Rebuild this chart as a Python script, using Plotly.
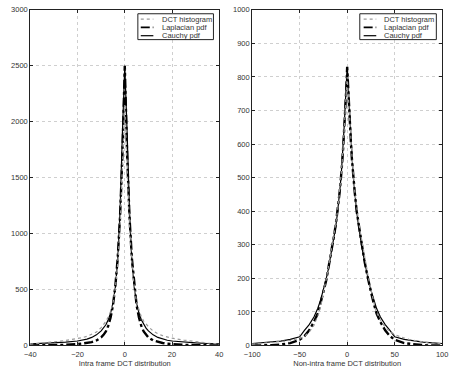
import plotly.graph_objects as go

# ---------------- data: left panel (intra frame) ----------------
intra_hist_x = [-40, -35, -30, -25, -20, -18, -16, -14, -12, -10, -9, -8, -7, -6, -5, -4, -3, -2, -1,
                0, 1, 2, 3, 4, 5, 6, 7, 8, 9, 10, 12, 14, 16, 18, 20, 25, 30, 35, 40]
intra_hist_y = [12, 20, 32, 45, 60, 70, 82, 98, 120, 160, 185, 215, 255, 305, 380, 510, 720, 1050, 1600,
                2150, 1580, 1060, 730, 520, 385, 310, 258, 218, 190, 168, 130, 105, 88, 75, 65, 48, 33, 22, 14]

intra_pdf_x = [0, 1, 2, 3, 4, 5, 6, 7, 8, 9, 10, 12, 14, 16, 18, 20, 25, 30, 35, 40]
intra_laplace = [2500, 1700, 1150, 780, 530, 360, 250, 175, 125, 95, 72, 45, 30, 22, 16, 12, 6, 3, 1, 0]
intra_cauchy = [2500, 1900, 1200, 760, 520, 380, 290, 230, 185, 155, 130, 95, 72, 57, 47, 40, 30, 24, 18, 14]

# ---------------- data: right panel (non-intra frame) ----------------
inter_hist_x = [-100, -95, -90, -85, -80, -75, -70, -65, -60, -55, -50, -45, -40, -35,
                -30, -28, -26, -24, -22, -20, -18, -16, -14, -12, -10, -8, -6, -4, -2,
                0, 2, 4, 6, 8, 10, 12, 14, 16, 18, 20, 22, 24, 26, 28, 30,
                35, 40, 45, 50, 55, 60, 65, 70, 75, 80, 85, 90, 95, 100]
inter_hist_y = [4, 5, 6, 7, 8, 10, 11, 13, 15, 18, 21, 27, 40, 60,
                95, 115, 140, 170, 200, 230, 262, 295, 330, 365, 405, 455, 520, 600, 700,
                800, 705, 605, 525, 460, 410, 370, 335, 300, 268, 238, 208, 180, 152, 125, 105,
                75, 55, 42, 33, 27, 22, 18, 15, 12, 10, 8, 7, 6, 5]

inter_pdf_x = [0, 1, 2, 3, 4, 5, 6, 7, 8, 10, 12, 14, 16, 18, 20, 22, 25, 28, 31, 35, 40, 45, 50,
               60, 70, 80, 90, 100]
inter_laplace = [830, 760, 700, 645, 600, 555, 515, 485, 455, 400, 360, 325, 290, 255, 225, 195, 160,
                 125, 95, 70, 45, 28, 17, 7, 3, 1, 0, 0]
inter_cauchy = [830, 780, 720, 660, 610, 560, 520, 485, 450, 400, 355, 315, 285, 255, 225, 200, 165,
                135, 110, 85, 62, 45, 26, 18, 13, 10, 8, 6]

legend_labels = ["DCT histogram", "Laplacian pdf", "Cauchy pdf"]
x_titles = ["Intra frame DCT distribution", "Non-intra frame DCT distribution"]


def mirror(xs, ys):
    mx = [-v for v in reversed(xs[1:])] + list(xs)
    my = list(reversed(ys[1:])) + list(ys)
    return mx, my


W, H = 453, 370
fig = go.Figure()

HIST = dict(color="#9a9a9a", width=1.2, dash="dot")
LAP = dict(color="black", width=2.4, dash="dashdot")
CAU = dict(color="black", width=1.2)

panels = [
    (intra_hist_x, intra_hist_y, intra_pdf_x, intra_laplace, intra_cauchy, "x", "y"),
    (inter_hist_x, inter_hist_y, inter_pdf_x, inter_laplace, inter_cauchy, "x2", "y2"),
]
for hx, hy, px, lap, cau, xa, ya in panels:
    lx, ly = mirror(px, lap)
    cx, cy = mirror(px, cau)
    fig.add_trace(go.Scatter(x=cx, y=cy, mode="lines", line=CAU, xaxis=xa, yaxis=ya, showlegend=False))
    fig.add_trace(go.Scatter(x=lx, y=ly, mode="lines", line=LAP, xaxis=xa, yaxis=ya, showlegend=False))
    fig.add_trace(go.Scatter(x=hx, y=hy, mode="lines", line=HIST, xaxis=xa, yaxis=ya, showlegend=False))

FONT = dict(family="Liberation Sans, Arial, sans-serif", size=7.5, color="#333")
axcommon = dict(showline=True, linecolor="#222", linewidth=1, mirror="ticks", ticks="inside",
                ticklen=3, tickcolor="#222", showgrid=True, gridcolor="#cfcfcf", griddash="dot",
                gridwidth=1, zeroline=False, tickfont=FONT)

x0a, x1a = 23 / W, 218 / W
x0b, x1b = 252 / W, 448 / W
ytop = 1 - 6 / H
ybot = 1 - 350 / H

fig.update_layout(
    width=W, height=H, margin=dict(l=0, r=0, t=0, b=0),
    paper_bgcolor="white", plot_bgcolor="white", showlegend=False,
    xaxis=dict(domain=[x0a, x1a], range=[-40, 40], tickvals=[-40, -20, 0, 20, 40], anchor="y",
               ticklabelstandoff=2, title=dict(text=x_titles[0], font=FONT, standoff=1), **axcommon),
    yaxis=dict(domain=[ybot, ytop], range=[0, 3000], tickvals=list(range(0, 3001, 500)), anchor="x",
               **axcommon),
    xaxis2=dict(domain=[x0b, x1b], range=[-100, 100], tickvals=[-100, -50, 0, 50, 100], anchor="y2",
                ticklabelstandoff=2, title=dict(text=x_titles[1], font=FONT, standoff=1), **axcommon),
    yaxis2=dict(domain=[ybot, ytop], range=[0, 1000], tickvals=list(range(0, 1001, 100)), anchor="x2",
                **axcommon),
)

# manual legends
styles = [HIST, LAP, CAU]
for (bx0, bx1, sx0, sx1, tx) in [(134, 212, 137, 150, 157), (363, 442, 367, 380, 386)]:
    fig.add_shape(type="rect", xref="paper", yref="paper",
                  x0=bx0 / W, x1=bx1 / W, y0=1 - 36.5 / H, y1=1 - 10 / H,
                  line=dict(color="#222", width=1), fillcolor="white", layer="above")
    for i, (lab, st) in enumerate(zip(legend_labels, styles)):
        yy = 15.5 + 8.5 * i
        fig.add_shape(type="line", xref="paper", yref="paper",
                      x0=sx0 / W, x1=sx1 / W, y0=1 - yy / H, y1=1 - yy / H,
                      line=dict(color=st["color"], width=min(st["width"], 1.6), dash=st.get("dash", "solid")),
                      layer="above")
        fig.add_annotation(text=lab, xref="paper", yref="paper", x=tx / W, y=1 - yy / H,
                           xanchor="left", yanchor="middle", showarrow=False, font=FONT)

fig.write_html("out.html")
